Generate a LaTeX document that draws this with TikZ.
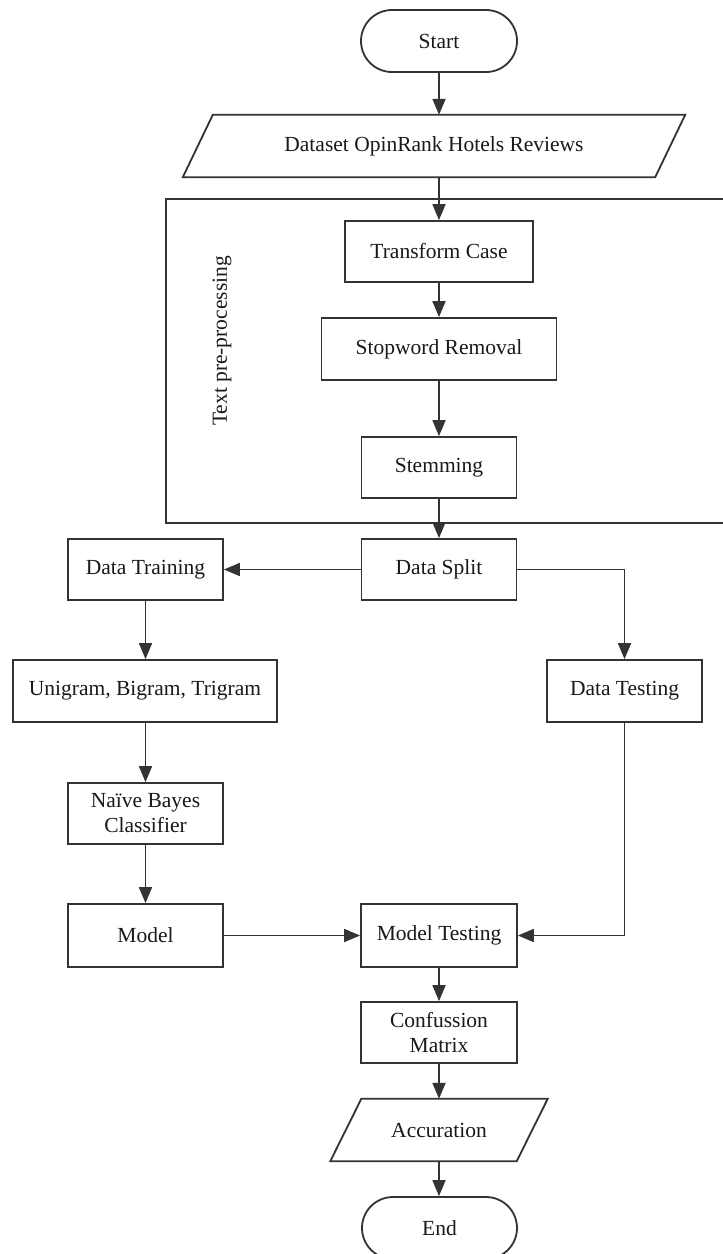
\documentclass[tikz,border=0pt]{standalone}
\usepackage{fontspec}
\setmainfont{Liberation Serif}
\usetikzlibrary{arrows.meta}
\begin{document}
\begin{tikzpicture}[x=1pt,y=-1pt,
  every node/.style={font=\fontsize{21.5}{25}\selectfont, text=black!90},
  line/.style={draw=black!80, line width=1.8pt},
  arr/.style={line, -{Triangle[length=16pt,width=13pt]}},
  proc/.style={line, rectangle, inner sep=0pt, align=center},
  term/.style={line, rectangle, rounded corners=31pt, inner sep=0pt},
  io/.style={rectangle, inner sep=0pt}
]
\useasboundingbox (0,0) rectangle (723,1254);
\clip (0,0) rectangle (723,1254);
\fill[white] (0,0) rectangle (723,1254);

% group frame
\draw[line] (730,199) -| (166,523) -- (730,523);
\node[rotate=90] (tpp) at (222,341) {Text pre-processing};

% nodes
\node[term, minimum width=156pt, minimum height=62pt] (start) at (439,41) {Start};
\node[io, minimum width=472pt, minimum height=62pt] (data) at (434,146) {Dataset OpinRank Hotels Reviews};
\draw[line] ([xshift=15pt]data.north west) -- ([xshift=15pt]data.north east)
  -- ([xshift=-15pt]data.south east) -- ([xshift=-15pt]data.south west) -- cycle;
\node[proc, minimum width=188pt, minimum height=61pt] (tc) at (439,251.5) {Transform Case};
\node[proc, minimum width=235pt, minimum height=62pt] (sr) at (439,349) {Stopword Removal};
\node[proc, minimum width=155pt, minimum height=61pt] (st) at (439,467.5) {Stemming};
\node[proc, minimum width=155pt, minimum height=61pt] (ds) at (439,569.5) {Data Split};
\node[proc, minimum width=155pt, minimum height=61pt] (dtr) at (145.5,569.5) {Data Training};
\node[proc, minimum width=264pt, minimum height=62pt] (ug) at (145,691) {Unigram, Bigram, Trigram};
\node[proc, minimum width=155pt, minimum height=62pt] (dte) at (624.5,691) {Data Testing};
\node[proc, minimum width=155pt, minimum height=61pt] (nb) at (145.5,813.5) {Naïve Bayes\\Classifier};
\node[proc, minimum width=155pt, minimum height=63pt] (mo) at (145.5,935.5) {Model};
\node[proc, minimum width=156pt, minimum height=63pt] (mt) at (439,935.5) {Model Testing};
\node[proc, minimum width=156pt, minimum height=61pt] (cm) at (439,1032.5) {Confussion\\Matrix};
\node[io, minimum width=186pt, minimum height=62pt] (acc) at (439,1130) {Accuration};
\draw[line] ([xshift=15.5pt]acc.north west) -- ([xshift=15.5pt]acc.north east)
  -- ([xshift=-15.5pt]acc.south east) -- ([xshift=-15.5pt]acc.south west) -- cycle;
\node[term, minimum width=155pt, minimum height=62pt] (end) at (439.5,1228) {End};

% connectors
\draw[arr] (start.south) -- (start.south |- data.north);
\draw[arr] (data.south -| tc.north) -- (tc.north);
\draw[arr] (tc.south) -- (sr.north);
\draw[arr] (sr.south) -- (st.north);
\draw[arr] (st.south) -- (ds.north);
\draw[arr] (ds.west) -- (dtr.east);
\draw[arr] (ds.east) -| (dte.north);
\draw[arr] (dtr.south) -- (dtr.south |- ug.north);
\draw[arr] (nb.north |- ug.south) -- (nb.north);
\draw[arr] (nb.south) -- (mo.north);
\draw[arr] (mo.east) -- (mt.west);
\draw[arr] (dte.south) |- (mt.east);
\draw[arr] (mt.south) -- (cm.north);
\draw[arr] (cm.south) -- (acc.north);
\draw[arr] (acc.south) -- (acc.south |- end.north);
\end{tikzpicture}
\end{document}
